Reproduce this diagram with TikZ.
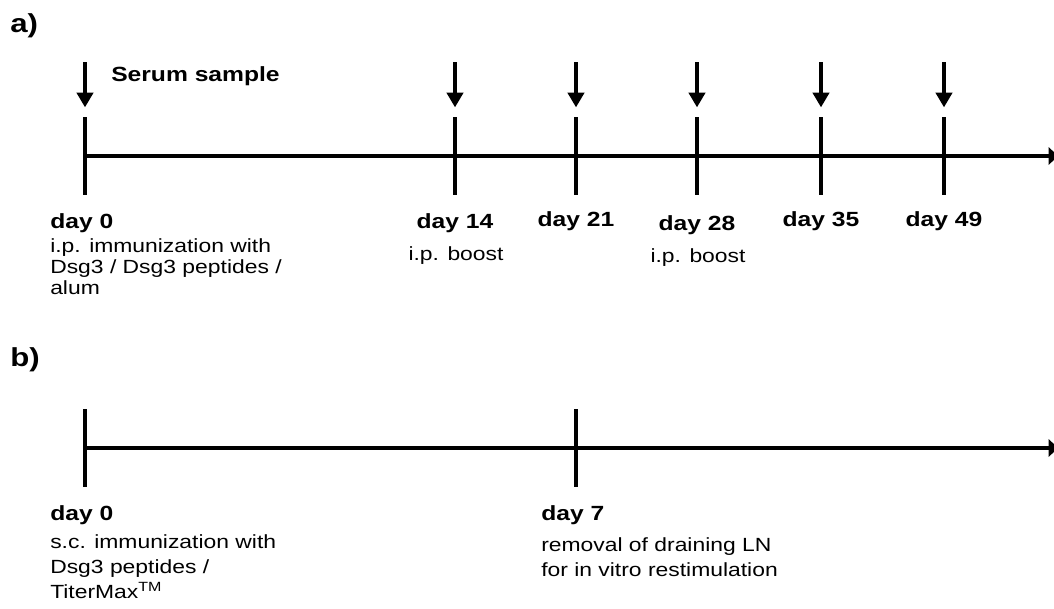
\documentclass[tikz,border=0pt]{standalone}
\usepackage{fontspec}
\setmainfont{Liberation Sans}[FakeStretch=1.2]
\usetikzlibrary{arrows.meta, positioning}
\tikzstyle{axisline}=[line width=3.6pt, -{Triangle[length=7pt,width=13pt]}]
\tikzstyle{tickmark}=[fill=black, inner sep=0pt, minimum width=3pt, minimum height=58.5pt]
\tikzstyle{sample}=[line width=3.3pt, -{Triangle[length=11pt,width=12pt]}]
\tikzstyle{panel}=[font=\fontsize{19.5}{19.5}\selectfont\bfseries, inner sep=0pt]
\tikzstyle{daylbl}=[font=\fontsize{15.4}{16}\selectfont\bfseries, inner sep=0pt]
\tikzstyle{desc}=[font=\fontsize{14.3}{15.4}\selectfont, inner sep=0pt, align=left]
\tikzstyle{descb}=[font=\fontsize{14.3}{18.75}\selectfont, inner sep=0pt, align=left]

\begin{document}
\begin{tikzpicture}[x=0.75pt, y=-0.75pt]
    \useasboundingbox (0,0) rectangle (1054,608);
    % a) immunization with boosts
    \node[panel, anchor=base west] (pa) at (10,32) {a)};
    \node[tickmark] (a0) at (85,156) {};
    \node[tickmark] (a14) at (455,156) {};
    \node[tickmark] (a21) at (576,156) {};
    \node[tickmark] (a28) at (697,156) {};
    \node[tickmark] (a35) at (821,156) {};
    \node[tickmark] (a49) at (944,156) {};
    \coordinate (aend) at (1058,156);
    \draw[axisline] (a0.center) -- (aend);
    \coordinate (s0) at (85,62);
    \coordinate (s14) at (455,62);
    \coordinate (s21) at (576,62);
    \coordinate (s28) at (697,62);
    \coordinate (s35) at (821,62);
    \coordinate (s49) at (944,62);
    \draw[sample] (s0) -- ([yshift=7pt]a0.north);
    \draw[sample] (s14) -- ([yshift=7pt]a14.north);
    \draw[sample] (s21) -- ([yshift=7pt]a21.north);
    \draw[sample] (s28) -- ([yshift=7pt]a28.north);
    \draw[sample] (s35) -- ([yshift=7pt]a35.north);
    \draw[sample] (s49) -- ([yshift=7pt]a49.north);
    \node[daylbl, anchor=base west] (ser) at (111,81) {Serum sample};
    \node[daylbl, anchor=base west] (l0) at (50,228) {day 0};
    \node[desc, anchor=base west] (n0) at (50,294) {i.p. immunization with\\Dsg3 / Dsg3 peptides /\\alum};
    \node[daylbl, anchor=base] (l14) at (455,228) {day 14};
    \node[desc, anchor=base] (n14) at (456,260) {i.p. boost};
    \node[daylbl, anchor=base] (l21) at (576,226) {day 21};
    \node[daylbl, anchor=base] (l28) at (697,230) {day 28};
    \node[desc, anchor=base] (n28) at (698,262) {i.p. boost};
    \node[daylbl, anchor=base] (l35) at (821,226) {day 35};
    \node[daylbl, anchor=base] (l49) at (944,226) {day 49};
    % b) immunization and LN removal
    \node[panel, anchor=base west] (pb) at (10,366) {b)};
    \node[tickmark] (b0) at (85,448) {};
    \node[tickmark] (b7) at (576,448) {};
    \coordinate (bend) at (1058,448);
    \draw[axisline] (b0.center) -- (bend);
    \node[daylbl, anchor=base west] (m0) at (50,520) {day 0};
    \node[descb, anchor=base west] (p0) at (50,598) {s.c. immunization with\\Dsg3 peptides /\\TiterMax\textsuperscript{TM}};
    \node[daylbl, anchor=base west] (m7) at (541,520) {day 7};
    \node[descb, anchor=base west] (p7) at (541,576) {removal of draining LN\\for in vitro restimulation};
\end{tikzpicture}
\end{document}
